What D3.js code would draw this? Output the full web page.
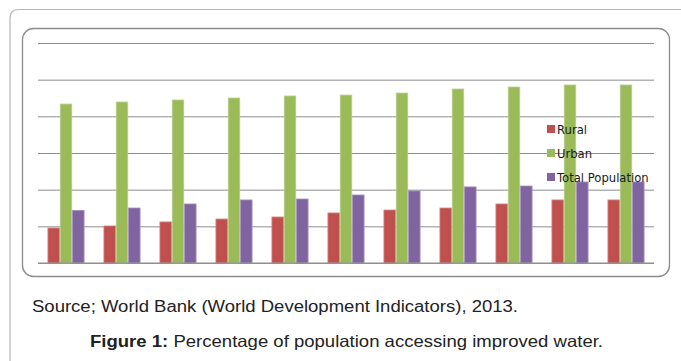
<!DOCTYPE html>
<html>
<head>
<meta charset="utf-8">
<script src="https://cdn.jsdelivr.net/npm/d3@7"></script>
<style>
  body { margin: 0; background: #fff; }
  svg { display: block; }
</style>
</head>
<body>
<script>
// values (no axis labels are shown in the original)
var categories = ["1", "2", "3", "4", "5", "6", "7", "8", "9", "10", "11"];
var rural = [19.1, 20.2, 22.4, 24.0, 25.1, 27.3, 28.9, 30.0, 32.2, 34.4, 34.4];
var urban = [86.7, 87.8, 88.9, 90.0, 91.1, 91.6, 92.7, 94.9, 96.0, 97.1, 97.1];
var total = [28.7, 30.0, 32.2, 34.4, 34.9, 37.1, 39.3, 41.5, 42.0, 44.2, 44.2];
var yTicks = [0, 20, 40, 60, 80, 100, 120];
var seriesNames = ["Rural", "Urban", "Total Population"];
var seriesColors = ["#c0504d", "#9bbb59", "#8064a2"];
var seriesStroke = ["#d88583", "#b7cf8a", "#a391bd"];

function drawChart() {
    var W = 681, H = 361;
    var svg = d3.select("body").append("svg")
        .attr("width", W).attr("height", H);

    // outer frame (only top and left edges visible)
    svg.append("path")
        .attr("d", "M10,361 L10,18 Q10,9.5 18.5,9.5 L681,9.5")
        .attr("fill", "none")
        .attr("stroke", "#b4b4b4")
        .attr("stroke-width", 1.2);

    // chart area frame
    svg.append("rect")
        .attr("x", 22.5).attr("y", 28.5)
        .attr("width", 647).attr("height", 248)
        .attr("rx", 11).attr("ry", 11)
        .attr("fill", "#fff")
        .attr("stroke", "#8c8c8c")
        .attr("stroke-width", 1.3);

    var plotLeft = 38, plotRight = 654, plotTop = 43, plotBottom = 263;

    var x0 = d3.scaleBand()
        .domain(categories)
        .range([plotLeft, plotRight])
        .paddingInner(0.34)
        .paddingOuter(0.17);

    var x1 = d3.scaleBand()
        .domain(seriesNames)
        .range([0, x0.bandwidth()]);

    var y = d3.scaleLinear()
        .domain([0, 120])
        .range([plotBottom, plotTop]);

    // gridlines
    var yAxis = d3.axisLeft(y)
        .tickValues(yTicks)
        .tickSize(-(plotRight - plotLeft))
        .tickFormat("");

    var grid = svg.append("g")
        .attr("transform", "translate(" + plotLeft + ",0)")
        .call(yAxis);
    grid.select(".domain").remove();
    grid.selectAll(".tick line")
        .attr("stroke", "#8e8e8e")
        .attr("stroke-width", 1);

    var data = categories.map(function(c, i) {
        return { cat: c, vals: [rural[i], urban[i], total[i]] };
    });

    var groups = svg.append("g").selectAll("g")
        .data(data)
        .enter().append("g")
        .attr("transform", function(d) { return "translate(" + x0(d.cat) + ",0)"; });

    groups.selectAll("rect")
        .data(function(d) { return d.vals.map(function(v, k) { return { k: k, v: v }; }); })
        .enter().append("rect")
        .attr("x", function(d) { return x1(seriesNames[d.k]) + 0.4; })
        .attr("y", function(d) { return y(d.v); })
        .attr("width", x1.bandwidth() - 0.8)
        .attr("height", function(d) { return y(0) - y(d.v); })
        .style("fill", function(d) { return seriesColors[d.k]; })
        .style("stroke", function(d) { return seriesStroke[d.k]; })
        .style("stroke-width", 0.8);

    // baseline drawn over the bars
    svg.append("line")
        .attr("x1", plotLeft).attr("x2", plotRight)
        .attr("y1", y(0)).attr("y2", y(0))
        .attr("stroke", "#8e8e8e");

    // legend
    var legend = svg.append("g")
        .attr("transform", "translate(547,125)");

    var item = legend.selectAll("g")
        .data(seriesNames)
        .enter().append("g")
        .attr("transform", function(d, i) { return "translate(0," + (i * 24) + ")"; });

    item.append("rect")
        .attr("width", 8).attr("height", 8)
        .style("fill", function(d, i) { return seriesColors[i]; });

    item.append("text")
        .attr("x", 10)
        .attr("y", 8.5)
        .style("font-family", "'DejaVu Sans', sans-serif")
        .style("font-size", "11.6px")
        .style("fill", "#1a1a1a")
        .text(function(d) { return d; });

    // source note and caption
    svg.append("text")
        .attr("x", 32)
        .attr("y", 311.5)
        .attr("textLength", 486)
        .attr("lengthAdjust", "spacingAndGlyphs")
        .style("font-family", "'Liberation Sans', Arial, sans-serif")
        .style("font-size", "16px")
        .style("fill", "#222")
        .text("Source; World Bank (World Development Indicators), 2013.");

    var cap = svg.append("text")
        .attr("x", 90)
        .attr("y", 347)
        .attr("textLength", 513)
        .attr("lengthAdjust", "spacingAndGlyphs")
        .style("font-family", "'Liberation Sans', Arial, sans-serif")
        .style("font-size", "16.5px")
        .style("fill", "#222");
    cap.append("tspan").style("font-weight", "bold").text("Figure 1:");
    cap.append("tspan").text(" Percentage of population accessing improved water.");
}

drawChart();
</script>
</body>
</html>
